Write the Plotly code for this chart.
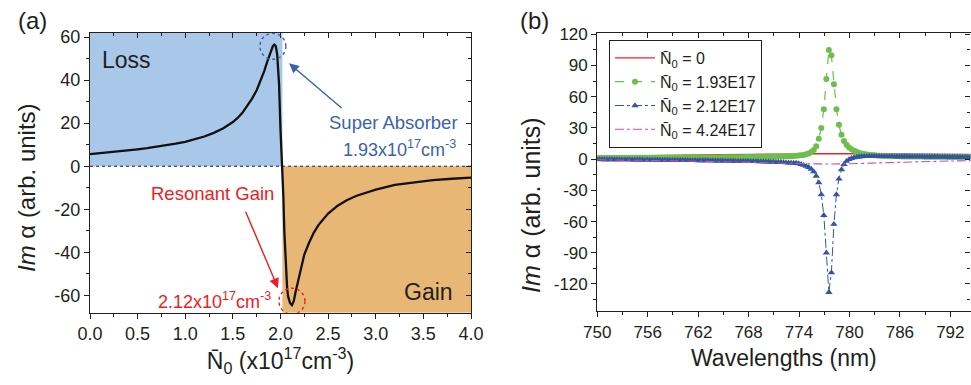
import plotly.graph_objects as go

# ---------------- panel (a): Im(alpha) versus carrier density ----------------
n0 = [0.0, 0.1, 0.2, 0.3, 0.4, 0.5, 0.6, 0.7, 0.8, 0.9, 1.0, 1.1, 1.2, 1.3, 1.4,
      1.5, 1.55, 1.6, 1.65, 1.7, 1.75, 1.8, 1.83, 1.86, 1.88, 1.9, 1.92, 1.935,
      1.95, 1.965, 1.975, 1.985, 2.0, 2.01, 2.02, 2.03, 2.04, 2.05, 2.06, 2.07,
      2.08, 2.1, 2.12, 2.14, 2.16, 2.18, 2.2, 2.25, 2.3, 2.35, 2.4, 2.5, 2.6,
      2.7, 2.8, 2.9, 3.0, 3.2, 3.4, 3.6, 3.8, 4.0]
im_alpha_a = [5.6, 6.0, 6.4, 6.85, 7.3, 7.85, 8.4, 9.0, 9.7, 10.45, 11.3, 12.4,
              13.8, 15.5, 17.6, 20.5, 22.4, 24.8, 27.8, 31.3, 35.3, 40.5, 44.3,
              48.5, 51.3, 53.8, 55.8, 56.5, 55.8, 52.0, 46.5, 38.0, 17.0, 8.0,
              0.0, -14.0, -30.0, -42.0, -51.0, -57.0, -60.5, -63.5, -64.5, -62.5,
              -58.0, -54.0, -49.5, -41.0, -35.5, -30.8, -27.2, -22.0, -18.3,
              -15.7, -13.7, -12.2, -10.9, -8.7, -7.4, -6.4, -5.8, -5.3]

loss_gain_edge = 2.02          # where Im(alpha) changes sign
absorber_point = (1.92, 55.7)  # super absorber, 1.93e17 cm^-3
gain_point = (2.12, -64.5)     # resonant gain, 2.12e17 cm^-3

a_xrange = [0.0, 4.0]
a_yrange = [-68, 62]
a_xticks = [0.0, 0.5, 1.0, 1.5, 2.0, 2.5, 3.0, 3.5, 4.0]
a_xticklabels = ["0.0", "0.5", "1.0", "1.5", "2.0", "2.5", "3.0", "3.5", "4.0"]
a_yticks = [-60, -40, -20, 0, 20, 40, 60]
a_yticklabels = ["-60", "-40", "-20", "0", "20", "40", "60"]

# ---------------- panel (b): Im(alpha) spectra ----------------
wavelengths = [
    749.95, 750.25, 750.55, 750.85, 751.15, 751.45, 751.75, 752.05, 752.35, 752.65,
    752.95, 753.25, 753.55, 753.85, 754.15, 754.45, 754.75, 755.05, 755.35, 755.65,
    755.95, 756.25, 756.55, 756.85, 757.15, 757.45, 757.75, 758.05, 758.35, 758.65,
    758.95, 759.25, 759.55, 759.85, 760.15, 760.45, 760.75, 761.05, 761.35, 761.65,
    761.95, 762.25, 762.55, 762.85, 763.15, 763.45, 763.75, 764.05, 764.35, 764.65,
    764.95, 765.25, 765.55, 765.85, 766.15, 766.45, 766.75, 767.05, 767.35, 767.65,
    767.95, 768.25, 768.55, 768.85, 769.15, 769.45, 769.75, 770.05, 770.35, 770.65,
    770.95, 771.25, 771.55, 771.85, 772.15, 772.45, 772.75, 773.05, 773.35, 773.65,
    773.95, 774.25, 774.55, 774.85, 775.15, 775.45, 775.75, 776.05, 776.35, 776.65,
    776.95, 777.25, 777.55, 777.85, 778.15, 778.45, 778.75, 779.05, 779.35, 779.65,
    779.95, 780.25, 780.55, 780.85, 781.15, 781.45, 781.75, 782.05, 782.35, 782.65,
    782.95, 783.25, 783.55, 783.85, 784.15, 784.45, 784.75, 785.05, 785.35, 785.65,
    785.95, 786.25, 786.55, 786.85, 787.15, 787.45, 787.75, 788.05, 788.35, 788.65,
    788.95, 789.25, 789.55, 789.85, 790.15, 790.45, 790.75, 791.05, 791.35, 791.65,
    791.95, 792.25, 792.55, 792.85, 793.15, 793.45, 793.75, 794.05, 794.35]

im_alpha_193 = [
    1.1, 1.1, 1.1, 1.1, 1.1, 1.15, 1.15, 1.15, 1.15, 1.2,
    1.2, 1.2, 1.2, 1.2, 1.25, 1.25, 1.25, 1.25, 1.3, 1.3,
    1.3, 1.3, 1.3, 1.35, 1.35, 1.35, 1.35, 1.4, 1.4, 1.4,
    1.4, 1.45, 1.45, 1.45, 1.5, 1.5, 1.5, 1.5, 1.55, 1.55,
    1.55, 1.6, 1.6, 1.6, 1.65, 1.65, 1.65, 1.7, 1.7, 1.7,
    1.75, 1.75, 1.8, 1.8, 1.8, 1.85, 1.85, 1.9, 1.9, 1.95,
    1.95, 2.0, 2.0, 2.05, 2.1, 2.1, 2.15, 2.2, 2.25, 2.3,
    2.35, 2.4, 2.45, 2.5, 2.6, 2.7, 2.8, 2.9, 3.0, 3.2,
    3.4, 3.7, 4.1, 4.7, 5.5, 6.8, 8.8, 12.5, 19.5, 30.0,
    48.0, 77.0, 105.0, 100.0, 72.0, 48.0, 33.0, 23.4, 17.5, 13.8,
    11.2, 9.4, 8.1, 7.1, 6.0, 5.4, 4.9, 4.5, 4.2, 3.9,
    3.7, 3.5, 3.35, 3.2, 3.1, 3.0, 2.9, 2.85, 2.8, 2.75,
    2.7, 2.65, 2.6, 2.6, 2.55, 2.55, 2.5, 2.5, 2.45, 2.45,
    2.4, 2.4, 2.35, 2.35, 2.3, 2.3, 2.25, 2.2, 2.2, 2.15,
    2.1, 2.1, 2.05, 2.05, 2.0, 2.0, 1.95, 1.95, 1.9]

im_alpha_212 = [
    -0.3, -0.3, -0.35, -0.35, -0.4, -0.4, -0.4, -0.45, -0.45, -0.5,
    -0.5, -0.5, -0.55, -0.55, -0.6, -0.6, -0.6, -0.65, -0.65, -0.7,
    -0.7, -0.75, -0.75, -0.8, -0.8, -0.85, -0.85, -0.9, -0.9, -0.95,
    -0.95, -1.0, -1.0, -1.05, -1.1, -1.1, -1.15, -1.2, -1.2, -1.25,
    -1.3, -1.3, -1.35, -1.4, -1.4, -1.45, -1.5, -1.55, -1.6, -1.6,
    -1.65, -1.7, -1.75, -1.8, -1.85, -1.9, -1.9, -1.95, -2.0, -2.05,
    -2.1, -2.15, -2.2, -2.25, -2.3, -2.4, -2.45, -2.5, -2.6, -2.7,
    -2.8, -2.9, -3.0, -3.1, -3.2, -3.35, -3.5, -3.6, -3.7, -3.8,
    -4.3, -5.0, -5.8, -6.8, -7.8, -9.5, -12.0, -16.3, -22.6, -34.0,
    -54.0, -90.0, -128.0, -109.0, -62.5, -34.0, -19.0, -10.0, -5.0, -2.0,
    -0.3, 0.8, 1.5, 2.0, 2.3, 2.5, 2.6, 2.7, 2.7, 2.7,
    2.7, 2.7, 2.7, 2.65, 2.65, 2.6, 2.6, 2.6, 2.55, 2.55,
    2.5, 2.5, 2.5, 2.45, 2.45, 2.4, 2.4, 2.4, 2.35, 2.35,
    2.3, 2.3, 2.25, 2.25, 2.2, 2.2, 2.15, 2.15, 2.1, 2.1,
    2.05, 2.05, 2.0, 2.0, 1.95, 1.9, 1.9, 1.85, 1.8]

wl_zero = [750, 755, 760, 765, 770, 775, 777, 780, 785, 790, 794.5]
im_alpha_0 = [2.6, 3.2, 3.8, 4.3, 4.7, 5.1, 5.2, 5.2, 5.0, 4.8, 4.6]

wl_424 = [750, 755, 760, 765, 770, 774, 777, 780, 784, 788, 792, 794.5]
im_alpha_424 = [-0.6, -1.1, -1.7, -2.5, -3.4, -4.2, -4.6, -4.4, -3.5, -2.6, -1.8, -1.4]

b_xrange = [750, 794.4]
b_yrange = [-146, 121]
b_xticks = [750, 756, 762, 768, 774, 780, 786, 792]
b_xticklabels = ["750", "756", "762", "768", "774", "780", "786", "792"]
b_yticks = [-120, -90, -60, -30, 0, 30, 60, 90, 120]
b_yticklabels = ["-120", "-90", "-60", "-30", "0", "30", "60", "90", "120"]

legend_names = ["N\u0304<sub>0</sub> = 0", "N\u0304<sub>0</sub> = 1.93E17",
                "N\u0304<sub>0</sub> = 2.12E17", "N\u0304<sub>0</sub> = 4.24E17"]

# ---------------- styling ----------------
INK = "#231f20"
FONT = "Liberation Sans, Arial, sans-serif"
LOSS_BLUE = "#a9c7e8"
GAIN_ORANGE = "#e8b775"
NOTE_BLUE = "#3d5fae"
NOTE_RED = "#ed1c24"
RED = "#e8262a"
GREEN = "#6cbf4a"
BLUE = "#3454a4"
MAGENTA = "#c84fb4"

fig = go.Figure()

# panel (a) curve
fig.add_trace(go.Scatter(x=n0, y=im_alpha_a, mode="lines",
                         line=dict(color="#111111", width=2.3),
                         xaxis="x", yaxis="y", showlegend=False, hoverinfo="skip"))

# panel (b) spectra
fig.add_trace(go.Scatter(x=wl_zero, y=im_alpha_0, mode="lines", name=legend_names[0],
                         line=dict(color=RED, width=1.3, shape="spline"),
                         xaxis="x2", yaxis="y2"))
fig.add_trace(go.Scatter(x=wavelengths, y=im_alpha_193, mode="lines+markers", name=legend_names[1],
                         line=dict(color=GREEN, width=1.2, dash="dash"),
                         marker=dict(symbol="circle", size=6, color=GREEN),
                         xaxis="x2", yaxis="y2"))
fig.add_trace(go.Scatter(x=wavelengths, y=im_alpha_212, mode="lines+markers", name=legend_names[2],
                         line=dict(color=BLUE, width=1.0, dash="dashdot"),
                         marker=dict(symbol="triangle-up", size=6.5, color=BLUE),
                         xaxis="x2", yaxis="y2"))
fig.add_trace(go.Scatter(x=wl_424, y=im_alpha_424, mode="lines", name=legend_names[3],
                         line=dict(color=MAGENTA, width=1.1, dash="dashdot", shape="spline"),
                         xaxis="x2", yaxis="y2"))

# carriers for the mirrored (inward-tick) frame axes
for xa, ya in (("x3", "y3"), ("x4", "y4")):
    fig.add_trace(go.Scatter(x=[None], y=[None], mode="lines", xaxis=xa, yaxis=ya,
                             showlegend=False, hoverinfo="skip"))


def axis(rng, ticks, labels, minor_step, domain, size, inside=False, **kw):
    d = dict(range=rng, domain=domain, tickmode="array", tickvals=ticks, ticktext=labels,
             ticks="inside" if inside else "outside", ticklen=5, tickwidth=1.2, tickcolor=INK,
             minor=dict(ticks="inside" if inside else "outside", ticklen=3, tickwidth=1.1,
                        tickcolor=INK, dtick=minor_step, tick0=ticks[0]),
             showline=True, linecolor=INK, linewidth=1.3, showgrid=False, zeroline=False,
             tickfont=dict(family=FONT, size=size, color=INK), automargin=False)
    if inside:
        d["showticklabels"] = False
    d.update(kw)
    return d


ax_dom = [90 / 971, 471 / 971]
ay_dom = [1 - 312.7 / 385, 1 - 32.7 / 385]
bx_dom = [597.3 / 971, 970.5 / 971]
by_dom = [1 - 311 / 385, 1 - 33.3 / 385]

fig.update_layout(
    width=971, height=385, template="none",
    margin=dict(l=0, r=0, t=0, b=0),
    paper_bgcolor="white", plot_bgcolor="white",
    font=dict(family=FONT, color=INK),
    xaxis=axis(a_xrange, a_xticks, a_xticklabels, 0.25, ax_dom, 18, anchor="y",
               title=dict(text="N\u0304<sub>0</sub> (x10<sup>17</sup>cm<sup>-3</sup>)",
                          font=dict(family=FONT, size=23, color=INK), standoff=5)),
    yaxis=axis(a_yrange, a_yticks, a_yticklabels, 10, ay_dom, 18, anchor="x"),
    xaxis3=axis(a_xrange, a_xticks, a_xticklabels, 0.25, ax_dom, 18, inside=True,
                overlaying="x", side="top", anchor="y"),
    yaxis3=axis(a_yrange, a_yticks, a_yticklabels, 10, ay_dom, 18, inside=True,
                overlaying="y", side="right", anchor="x"),
    xaxis2=axis(b_xrange, b_xticks, b_xticklabels, 3, bx_dom, 17, anchor="y2",
                title=dict(text="Wavelengths (nm)",
                           font=dict(family=FONT, size=23, color=INK), standoff=9)),
    yaxis2=axis(b_yrange, b_yticks, b_yticklabels, 15, by_dom, 17, anchor="x2"),
    xaxis4=axis(b_xrange, b_xticks, b_xticklabels, 3, bx_dom, 17, inside=True,
                overlaying="x2", side="top", anchor="y2"),
    yaxis4=axis(b_yrange, b_yticks, b_yticklabels, 15, by_dom, 17, inside=True,
                overlaying="y2", side="right", anchor="x2"),
    legend=dict(x=609 / 971, y=1 - 40 / 385, xanchor="left", yanchor="top",
                bgcolor="white", bordercolor=INK, borderwidth=1,
                font=dict(family=FONT, size=16, color=INK), itemwidth=40,
                tracegroupgap=0),
)

# loss / gain regions and zero line of panel (a)
fig.add_shape(type="rect", xref="x", yref="y", x0=a_xrange[0], x1=loss_gain_edge,
              y0=0, y1=a_yrange[1], fillcolor=LOSS_BLUE, line=dict(width=0), layer="below")
fig.add_shape(type="rect", xref="x", yref="y", x0=loss_gain_edge, x1=a_xrange[1],
              y0=a_yrange[0], y1=0, fillcolor=GAIN_ORANGE, line=dict(width=0), layer="below")
fig.add_shape(type="line", xref="x", yref="y", x0=a_xrange[0], x1=a_xrange[1], y0=0, y1=0,
              line=dict(color=INK, width=1, dash="dot"), layer="below")

# dotted circles marking the two extremes
fig.add_shape(type="circle", xref="x", yref="y", xsizemode="pixel", ysizemode="pixel",
              xanchor=absorber_point[0], yanchor=absorber_point[1],
              x0=-13, x1=13, y0=-13, y1=13, line=dict(color=NOTE_BLUE, width=1.4, dash="dot"))
fig.add_shape(type="circle", xref="x", yref="y", xsizemode="pixel", ysizemode="pixel",
              xanchor=gain_point[0], yanchor=gain_point[1],
              x0=-13, x1=13, y0=-9, y1=17, line=dict(color=NOTE_RED, width=1.4, dash="dot"))

notes = [
    dict(text="(a)", xref="paper", yref="paper", x=32 / 971, y=1 - 20 / 385, size=24, color=INK),
    dict(text="(b)", xref="paper", yref="paper", x=534 / 971, y=1 - 20 / 385, size=24, color=INK),
    dict(text="<i>Im</i> \u03b1 (arb. units)", xref="paper", yref="paper",
         x=27 / 971, y=1 - 188 / 385, size=24, color=INK, angle=-90),
    dict(text="<i>Im</i> \u03b1 (arb. units)", xref="paper", yref="paper",
         x=531 / 971, y=1 - 205 / 385, size=25, color=INK, angle=-90),
    dict(text="Loss", xref="x", yref="y", x=0.105, y=49.2, size=23, color=INK, xanchor="left"),
    dict(text="Gain", xref="x", yref="y", x=3.83, y=-58.3, size=23, color=INK, xanchor="right"),
    dict(text="Super Absorber", xref="x", yref="y", x=3.19, y=20.3, size=18.5, color=NOTE_BLUE),
    dict(text="1.93x10<sup>17</sup>cm<sup>-3</sup>", xref="x", yref="y", x=3.245, y=8.4,
         size=18, color=NOTE_BLUE),
    dict(text="Resonant Gain", xref="x", yref="y", x=1.29, y=-12.5, size=18.5, color=NOTE_RED),
    dict(text="2.12x10<sup>17</sup>cm<sup>-3</sup>", xref="x", yref="y", x=1.31, y=-62.2,
         size=18, color=NOTE_RED),
]
for n in notes:
    fig.add_annotation(text=n["text"], xref=n["xref"], yref=n["yref"], x=n["x"], y=n["y"],
                       showarrow=False, xanchor=n.get("xanchor", "center"), yanchor="middle",
                       textangle=n.get("angle", 0),
                       font=dict(family=FONT, size=n["size"], color=n["color"]))

# pointer arrows
fig.add_annotation(x=2.09, y=47.8, xref="x", yref="y", ax=54, ay=46, text="",
                   showarrow=True, arrowhead=2, arrowsize=1.4, arrowwidth=1.4,
                   arrowcolor=NOTE_BLUE)
fig.add_annotation(x=1.974, y=-56.6, xref="x", yref="y", ax=-33, ay=-78, text="",
                   showarrow=True, arrowhead=2, arrowsize=1.4, arrowwidth=1.4,
                   arrowcolor=NOTE_RED)

fig.write_html("out.html")
